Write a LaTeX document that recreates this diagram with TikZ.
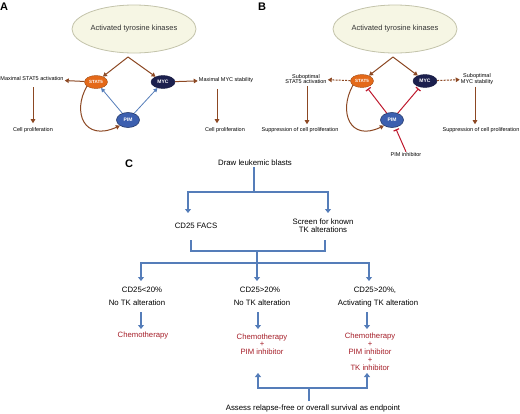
\documentclass[tikz,border=0pt]{standalone}
\usepackage{fontspec}
\setmainfont{Liberation Sans}
\usetikzlibrary{arrows.meta,shapes.geometric}
\definecolor{brn}{RGB}{140,72,35}
\definecolor{blu}{RGB}{85,125,185}
\definecolor{inh}{RGB}{190,25,45}
\definecolor{rtx}{RGB}{165,30,40}
\definecolor{tkfill}{RGB}{246,246,228}
\definecolor{tkline}{RGB}{195,195,170}
\definecolor{stfill}{RGB}{228,105,25}
\definecolor{myfill}{RGB}{28,32,78}
\definecolor{pifill}{RGB}{60,95,175}
\newcommand{\fsz}[1]{\fontsize{#1}{#1}\selectfont}
\tikzset{
  tkbox/.style={ellipse, draw=tkline, line width=0.8pt, fill=tkfill, minimum width=124pt, minimum height=48pt, inner sep=0pt, font=\fsz{7.5}, text=black!80},
  blob/.style={ellipse, inner sep=0pt, minimum height=13pt, text=white, font=\bfseries\fsz{5}},
  statbox/.style={blob, fill=stfill, draw=stfill!70!black, minimum width=23pt, font=\bfseries\fsz{4.5}},
  mycbox/.style={blob, fill=myfill, draw=myfill!80!black, minimum width=24pt},
  pimbox/.style={blob, fill=pifill, draw=pifill!60!black, line width=0.6pt, minimum width=23pt, minimum height=15pt},
  lbl/.style={font=\fsz{5.5}, inner sep=1pt, align=center, text=black},
  panel/.style={font=\bfseries\fsz{11}, inner sep=0pt},
  ctext/.style={font=\fsz{7.8}, inner sep=1pt, align=center},
  rtext/.style={font=\fsz{7.7}, inner sep=1pt, align=center, text=rtx},
  brarrow/.style={draw=brn, line width=1pt, -{Triangle[length=4pt,width=4.5pt]}},
  dbrarrow/.style={brarrow, dashed, dash pattern=on 2pt off 1.2pt},
  blarrow/.style={draw=blu, line width=0.8pt, -{Triangle[length=4pt,width=4pt]}},
  inharrow/.style={draw=inh, line width=1pt, -{Bar[width=6pt,line width=1.2pt]}, shorten >=2pt},
  cline/.style={draw=blu, line width=1.8pt},
  carrow/.style={cline, -{Triangle[length=4pt,width=6pt]}},
}
\begin{document}
\begin{tikzpicture}[x=1pt,y=-1pt]
\useasboundingbox (0,0) rectangle (520,413);
% ---------------- Panel A
\node[panel] (A) at (4,7) {A};
\node[tkbox] (tkA) at (134,29) {Activated tyrosine kinases};
\node[statbox] (sA) at (96,82) {STAT5};
\node[mycbox] (mA) at (163,82) {MYC};
\node[pimbox] (pA) at (128,120) {PIM};
\coordinate (apA) at (128,57);
\draw[brarrow] (apA) -- (sA);
\draw[brarrow] (apA) -- (mA);
\draw[blarrow] (pA) -- (sA);
\draw[blarrow] (pA) -- (mA);
\draw[brarrow] (sA.205) .. controls (72,112) and (84,142) .. (pA.215);
\node[lbl] (t1A) at (32,79) {Maximal STAT5 activation};
\node[lbl] (c1A) at (33,130) {Cell proliferation};
\node[lbl] (t2A) at (226,80) {Maximal MYC stability};
\node[lbl] (c2A) at (225,130) {Cell proliferation};
\draw[brarrow] (sA) -- (t1A);
\draw[brarrow] (mA) -- (t2A);
\draw[brarrow] ([yshift=-5pt]t1A.south -| c1A.north) -- ([yshift=3pt]c1A.north);
\draw[brarrow] ([xshift=-9pt,yshift=-5pt]t2A.south) -- ([xshift=-8pt,yshift=3pt]c2A.north);
% ---------------- Panel B
\node[panel] (B) at (262,7) {B};
\node[tkbox] (tkB) at (395,29) {Activated tyrosine kinases};
\node[statbox] (sB) at (362,81) {STAT5};
\node[mycbox] (mB) at (425,81) {MYC};
\node[pimbox] (pB) at (392,120) {PIM};
\coordinate (apB) at (393,57);
\draw[brarrow] (apB) -- (sB);
\draw[brarrow] (apB) -- (mB);
\draw[inharrow] (pB) -- (sB);
\draw[inharrow] (pB) -- (mB);
\draw[brarrow] (sB.205) .. controls (338,112) and (350,142) .. (pB.215);
\node[lbl] (piB) at (406,155) {PIM inhibitor};
\draw[inharrow] (piB.north) -- (pB);
\node[lbl] (t1B) at (306,79) {Suboptimal\\STAT5 activation};
\node[lbl] (c1B) at (300,130) {Suppression of cell proliferation};
\node[lbl] (t2B) at (477,79) {Suboptimal\\MYC stability};
\node[lbl] (c2B) at (481,130) {Suppression of cell proliferation};
\draw[dbrarrow] (sB) -- (t1B);
\draw[dbrarrow] (mB) -- (t2B);
\draw[brarrow] ([xshift=1pt,yshift=-1pt]t1B.south) -- ([xshift=7pt,yshift=2pt]c1B.north);
\draw[brarrow] ([xshift=-2pt,yshift=-1pt]t2B.south) -- ([xshift=-6pt,yshift=2pt]c2B.north);
% ---------------- Panel C
\node[panel] (C) at (129,164) {C};
\node[ctext] (dr) at (255,163) {Draw leukemic blasts};
\coordinate (j1) at (254,192);
\coordinate (a1) at (188,213);
\coordinate (a2) at (328,213);
\node[ctext] (cd) at (196,226) {CD25 FACS};
\node[ctext] (sc) at (323,225.5) {Screen for known\\TK alterations};
\draw[cline] (dr.south -| j1) -- (j1);
\draw[carrow] (j1) -| (a1);
\draw[carrow] (j1) -| (a2);
\coordinate (b1) at (191,240);
\coordinate (b2) at (325,240);
\coordinate (j2) at (257,251);
\coordinate (j3) at (257,263);
\draw[cline] (b1) |- (j2);
\draw[cline] (j2) -| (b2);
\draw[cline] (j2) -- (j3);
\coordinate (d1) at (141,281);
\coordinate (d2) at (257,281);
\coordinate (d3) at (369,281);
\draw[carrow] (j3) -| (d1);
\draw[carrow] (j3) -- (d2);
\draw[carrow] (j3) -| (d3);
\node[ctext] (g1a) at (142,290) {CD25<20\%};
\node[ctext] (g1b) at (137,303) {No TK alteration};
\node[ctext] (g2a) at (260,290) {CD25>20\%};
\node[ctext] (g2b) at (262,303) {No TK alteration};
\node[ctext] (g3a) at (375,290) {CD25>20\%,};
\node[ctext] (g3b) at (378,303) {Activating TK alteration};
\node[rtext] (r1) at (143,336) {Chemotherapy};
\node[rtext, font=\fontsize{7.7}{7.4}\selectfont] (r2) at (262,344) {Chemotherapy\\+\\PIM inhibitor};
\node[rtext, font=\fontsize{7.7}{8}\selectfont] (r3) at (370,352) {Chemotherapy\\+\\PIM inhibitor\\+\\TK inhibitor};
\coordinate (e1) at (141,312);
\coordinate (f1) at (141,329);
\coordinate (e2) at (258,312);
\coordinate (f2) at (258,329);
\coordinate (e3) at (367,312);
\coordinate (f3) at (367,329);
\draw[carrow] (e1) -- (f1);
\draw[carrow] (e2) -- (f2);
\draw[carrow] (e3) -- (f3);
\coordinate (u1) at (258,373);
\coordinate (u2) at (367,373);
\coordinate (k1) at (309,388);
\coordinate (k2) at (309,401);
\draw[carrow] (k1) -| (u1);
\draw[carrow] (k1) -| (u2);
\draw[cline] (k2) -- (k1);
\node[ctext] (as) at (313,408) {Assess relapse-free or overall survival as endpoint};
\end{tikzpicture}
\end{document}
